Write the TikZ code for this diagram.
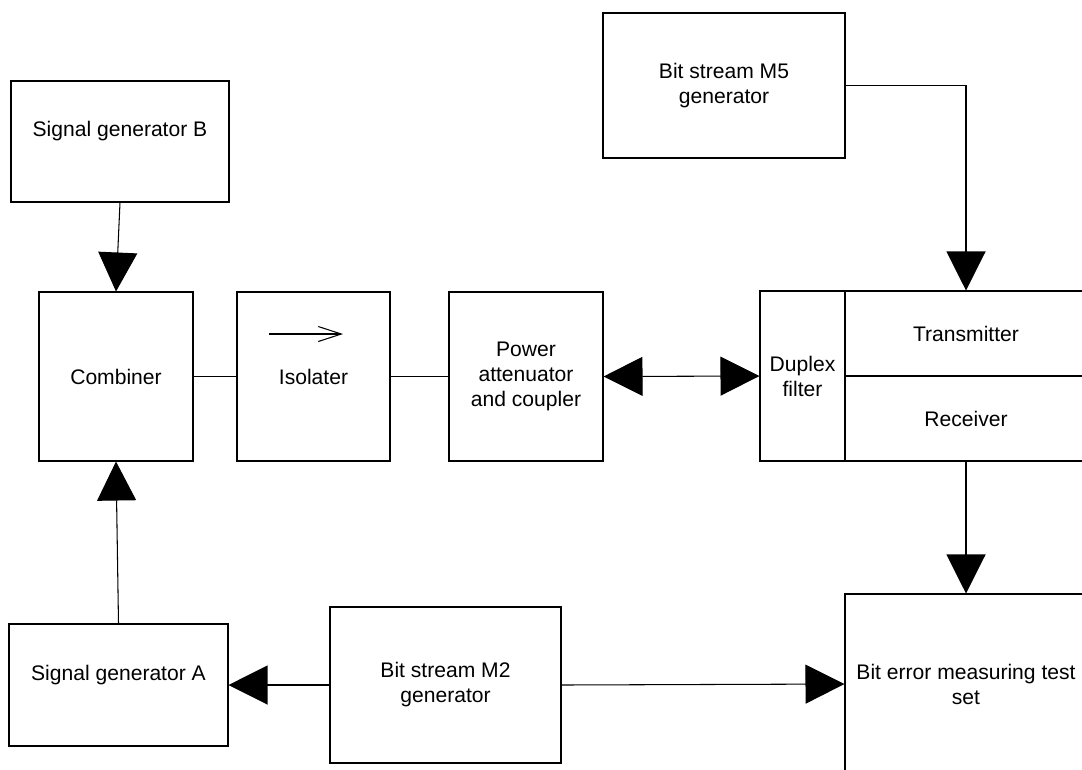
\documentclass[tikz,border=0pt]{standalone}
\usepackage{fontspec}
\setmainfont{Liberation Sans}
\usepackage{tikz}
\usetikzlibrary{arrows.meta}

\begin{document}
\begin{tikzpicture}[x=0.02cm, y=-0.02cm, line width=0.6pt,
	every node/.style={font=\fontsize{12}{14.2}\selectfont, align=center},
	blk/.style={draw, rectangle, inner sep=0pt},
	>={Triangle[length=0.78cm, width=0.78cm]}]
	\clip (0,0) rectangle (1082,769);
	% top row
	\node[blk, minimum width=218*0.02cm, minimum height=121*0.02cm] (sigB) at (120,141.5) {Signal generator B\\~};
	\node[blk, minimum width=242*0.02cm, minimum height=145*0.02cm] (msfive) at (724,85.5) {Bit stream M5\\generator};
	% middle row
	\node[blk, minimum width=154*0.02cm, minimum height=169*0.02cm] (comb) at (116,376.5) {Combiner};
	\node[blk, minimum width=153*0.02cm, minimum height=169*0.02cm] (iso) at (313.5,376.5) {Isolater};
	\node[blk, minimum width=154*0.02cm, minimum height=169*0.02cm] (pwr) at (526,376.5) {Power\\attenuator\\and coupler};
	\node[blk, minimum width=85*0.02cm, minimum height=170*0.02cm] (dup) at (802.5,376) {Duplex\\filter};
	\node[blk, minimum width=242*0.02cm, minimum height=85*0.02cm] (tx) at (966,333.5) {Transmitter};
	\node[blk, minimum width=242*0.02cm, minimum height=85*0.02cm] (rx) at (966,418.5) {Receiver};
	% bottom row
	\node[blk, minimum width=219*0.02cm, minimum height=122*0.02cm] (sigA) at (118.5,685) {Signal generator A\\~};
	\node[blk, minimum width=231*0.02cm, minimum height=156*0.02cm] (mtwo) at (445.5,685) {Bit stream M2\\generator};
	\node[blk, minimum width=242*0.02cm, minimum height=180*0.02cm] (ber) at (966,684) {Bit error measuring test\\set};
	% isolater direction mark
	\coordinate (isoA) at (269,334);
	\coordinate (isoB) at (343,334);
	\draw[-{Straight Barb[length=0.46cm, width=0.3cm]}] (isoA) -- (isoB);
	% connectors
	\draw[->] (sigB.south) -- (comb.north);
	\draw[->] (sigA.north) -- (comb.south);
	\draw (comb.east) -- (iso.west);
	\draw (iso.east) -- (pwr.west);
	\draw[<->] (pwr.east) -- (dup.west);
	\draw[->] (msfive.east) -| (tx.north);
	\draw[->] (rx.south) -- (ber.north);
	\draw[->] (mtwo.west) -- (sigA.east);
	\draw[->] (mtwo.east) -- (ber.west);
\end{tikzpicture}
\end{document}
